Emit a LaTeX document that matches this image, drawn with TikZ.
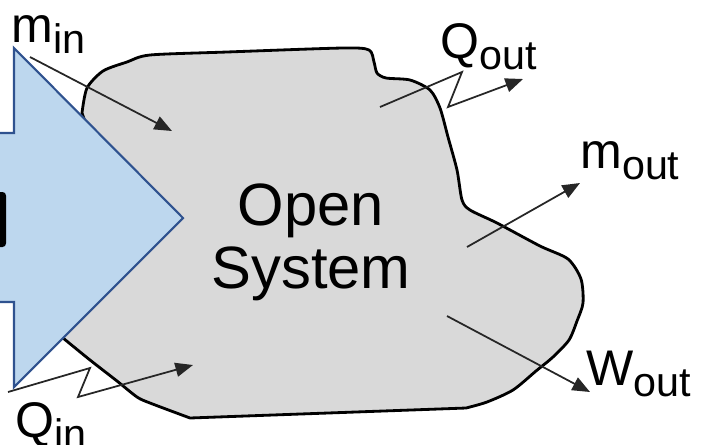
\documentclass[tikz,border=0pt]{standalone}
\usepackage{fontspec}
\setmainfont{Liberation Sans}
\usepackage{xcolor}
\usetikzlibrary{arrows.meta}

\definecolor{blobgray}{HTML}{D9D9D9}
\definecolor{arrowfill}{HTML}{BDD7EE}
\definecolor{arrowline}{HTML}{2F528F}

\newcommand{\flowlbl}[2]{{\fontsize{28.5}{30}\selectfont #1}\raisebox{-6.5pt}{\fontsize{23.5}{25}\selectfont #2}}

\begin{document}
\begin{tikzpicture}[x=0.02cm, y=-0.02cm,
        flow/.style={draw=black!85, line width=1pt, -{Triangle[length=10pt, width=8pt]}},
        lbl/.style={inner sep=0pt, anchor=base west}]
    \clip (0,0) rectangle (702,444);

    % the system
    \fill[blobgray, draw=black, line width=1.6pt, line join=round]
        plot[smooth, tension=0.45] coordinates {(82,113) (87,88) (103,71) (127,62) (150,55) (227,52)
            (343,48) (369,50) (374,62) (377,73) (386,78) (410,80) (430,90) (440,108) (448,137)
            (457,170) (462,200) (470,210) (497,223) (540,246) (568,259) (581,279) (583,303)
            (577,321) (569,340) (553,357) (536,371) (513,390) (487,402) (466,408)}
        -- plot[smooth, tension=0.45] coordinates {(190,418) (150,403) (137,397) (117,381) (90,360) (63,338)}
        -- (120,220) -- cycle;

    % big blue arrow
    \fill[arrowfill, draw=arrowline, line width=1.2pt, line join=miter]
        (-20,133) -- (14,133) -- (14,48) -- (183,218) -- (14,387) -- (14,302) -- (-20,302);
    \fill[black, rounded corners=2pt] (-10,192) rectangle (6,247);

    \node[inner sep=0pt, anchor=base, font=\fontsize{34}{36}\selectfont] (open) at (311,225) {Open};
    \node[inner sep=0pt, anchor=base, font=\fontsize{34}{36}\selectfont] (system) at (311,288) {System};

    \node[lbl] (min) at (11,42) {\flowlbl{m}{in}};
    \node[lbl] (qin) at (15,437) {\flowlbl{Q}{in}};
    \node[lbl] (qout) at (440,58) {\flowlbl{Q}{out}};
    \node[lbl] (mout) at (580,168) {\flowlbl{m}{out}};
    \node[lbl] (wout) at (586,385) {\flowlbl{W}{out}};

    \coordinate (min-from) at (30,57);
    \coordinate (min-to) at (172,131);
    \coordinate (qin-from) at (8,392);
    \coordinate (qin-a) at (90,368);
    \coordinate (qin-b) at (78,397);
    \coordinate (qin-to) at (193,365);
    \coordinate (qout-from) at (380,107);
    \coordinate (qout-a) at (462,72);
    \coordinate (qout-b) at (448,107);
    \coordinate (qout-to) at (523,79);
    \coordinate (mout-from) at (467,247);
    \coordinate (mout-to) at (580,183);
    \coordinate (wout-from) at (447,316);
    \coordinate (wout-to) at (590,392);

    \draw[flow] (min-from) -- (min-to);
    \draw[flow] (qin-from) -- (qin-a) -- (qin-b) -- (qin-to);
    \draw[flow] (qout-from) -- (qout-a) -- (qout-b) -- (qout-to);
    \draw[flow] (mout-from) -- (mout-to);
    \draw[flow] (wout-from) -- (wout-to);
\end{tikzpicture}
\end{document}
